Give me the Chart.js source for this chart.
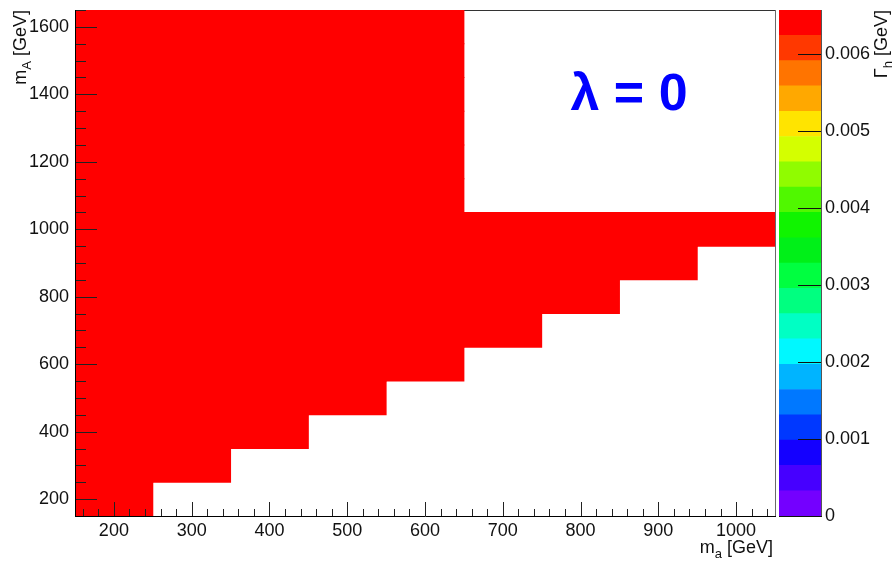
<!DOCTYPE html>
<html>
<head>
<meta charset="utf-8">
<script src="https://cdn.jsdelivr.net/npm/chart.js@4.4.1/dist/chart.umd.min.js"></script>
<style>
  html, body { margin: 0; padding: 0; background: #ffffff; }
  #wrap { position: relative; width: 895px; height: 561px; }
  #wrap canvas { position: absolute; left: 0; top: 0; }
</style>
</head>
<body>
<div id="wrap">
  <canvas id="main" width="895" height="561"></canvas>
  <canvas id="zbar" width="895" height="561"></canvas>
</div>
<script>
// Bin centres of the scan: light scalar mass m_a (columns) and heavy mass m_A (rows, top to bottom)
const maBins = [200, 300, 400, 500, 600, 700, 800, 900, 1000];
const mABins = [1600, 1500, 1400, 1300, 1200, 1100, 1000, 900, 800, 700, 600, 500, 400, 300, 200];
const binWidth = 100;

// Higgs width Γ_h [GeV] per bin (null = point not scanned)
const gammaH = [
  [0.0065, 0.0065, 0.0065, 0.0065, 0.0065, null,   null,   null,   null  ], // 1600
  [0.0065, 0.0065, 0.0065, 0.0065, 0.0065, null,   null,   null,   null  ], // 1500
  [0.0065, 0.0065, 0.0065, 0.0065, 0.0065, null,   null,   null,   null  ], // 1400
  [0.0065, 0.0065, 0.0065, 0.0065, 0.0065, null,   null,   null,   null  ], // 1300
  [0.0065, 0.0065, 0.0065, 0.0065, 0.0065, null,   null,   null,   null  ], // 1200
  [0.0065, 0.0065, 0.0065, 0.0065, 0.0065, null,   null,   null,   null  ], // 1100
  [0.0065, 0.0065, 0.0065, 0.0065, 0.0065, 0.0065, 0.0065, 0.0065, 0.0065], // 1000
  [0.0065, 0.0065, 0.0065, 0.0065, 0.0065, 0.0065, 0.0065, 0.0065, null  ], // 900
  [0.0065, 0.0065, 0.0065, 0.0065, 0.0065, 0.0065, 0.0065, null,   null  ], // 800
  [0.0065, 0.0065, 0.0065, 0.0065, 0.0065, 0.0065, null,   null,   null  ], // 700
  [0.0065, 0.0065, 0.0065, 0.0065, 0.0065, null,   null,   null,   null  ], // 600
  [0.0065, 0.0065, 0.0065, 0.0065, null,   null,   null,   null,   null  ], // 500
  [0.0065, 0.0065, 0.0065, null,   null,   null,   null,   null,   null  ], // 400
  [0.0065, 0.0065, null,   null,   null,   null,   null,   null,   null  ], // 300
  [0.0065, null,   null,   null,   null,   null,   null,   null,   null  ]  // 200
];

// Axis ranges and tick labels
const xRange = [150, 1050];
const yRange = [150, 1650];
const xTicks = [200, 300, 400, 500, 600, 700, 800, 900, 1000];
const yTicks = [200, 400, 600, 800, 1000, 1200, 1400, 1600];
const zMax = 0.00657;
const zTicks = [0, 0.001, 0.002, 0.003, 0.004, 0.005, 0.006];
const zTickLabels = ['0', '0.001', '0.002', '0.003', '0.004', '0.005', '0.006'];

// 20-level rainbow colour palette (low → high)
const palette = [
  '#7400ff', '#4600ff', '#1400ff', '#0038ff', '#0078ff',
  '#00b4ff', '#00f8ff', '#00ffc4', '#00ff80', '#00ff40',
  '#00f018', '#10f400', '#50f800', '#90fc00', '#d4ff00',
  '#ffe400', '#ffa800', '#ff7400', '#ff3800', '#ff0000'
];

const FONT = '"Liberation Sans", Arial, Helvetica, sans-serif';

function colourFor(v) {
  if (v == null) return 'rgba(0,0,0,0)';
  let k = Math.floor(v / zMax * palette.length);
  k = Math.max(0, Math.min(palette.length - 1, k));
  return palette[k];
}

// One floating bar per filled bin
const cells = [];
mABins.forEach((mA, r) => {
  maBins.forEach((ma, c) => {
    const v = gammaH[r][c];
    if (v != null) cells.push({ x: ma, y: [mA - binWidth / 2, mA + binWidth / 2], v: v });
  });
});

// Text with a subscript, e.g. m_a [GeV]; drawn so that it ends at local x = 0
function drawSubText(ctx, main, sub, rest, size) {
  const fMain = size + 'px ' + FONT;
  const fSub = Math.round(size * 0.7) + 'px ' + FONT;
  ctx.font = fMain; const w1 = ctx.measureText(main).width;
  ctx.font = fSub;  const w2 = ctx.measureText(sub).width;
  ctx.font = fMain; const w3 = ctx.measureText(rest).width;
  let x = -(w1 + w2 + w3);
  ctx.textAlign = 'left';
  ctx.textBaseline = 'alphabetic';
  ctx.font = fMain; ctx.fillText(main, x, 0); x += w1;
  ctx.font = fSub;  ctx.fillText(sub, x, size * 0.3); x += w2;
  ctx.font = fMain; ctx.fillText(rest, x, 0);
}

const px = v => Math.round(v) + 0.5;

// Axes keep the plot box fixed; no extra room for end labels
function fixedSize(prop, size) {
  return s => {
    s[prop] = size;
    s.paddingTop = 0; s.paddingBottom = 0;
    s.paddingLeft = 0; s.paddingRight = 0;
  };
}

const frameDecor = {
  id: 'frameDecor',
  beforeDatasetsDraw(chart) {
    const { ctx, chartArea: a } = chart;
    ctx.save();
    ctx.lineWidth = 1;
    ctx.strokeStyle = '#333333';
    ctx.beginPath();
    ctx.moveTo(a.left, px(a.top)); ctx.lineTo(a.right, px(a.top));
    ctx.stroke();
    ctx.strokeStyle = '#6a6a6a';
    ctx.beginPath();
    ctx.moveTo(px(a.right), a.top); ctx.lineTo(px(a.right), a.bottom);
    ctx.stroke();
    ctx.restore();
  },
  afterDatasetsDraw(chart) {
    const { ctx, chartArea: a, scales } = chart;
    const xs = scales.x, ys = scales.y;
    ctx.save();
    ctx.lineWidth = 1;
    ctx.strokeStyle = '#222222';
    // x-axis ticks, pointing into the plot
    ctx.beginPath();
    for (let v = 160; v <= 1040; v += 20) {
      const x = px(xs.getPixelForValue(v));
      const len = (v % 100 === 0) ? 14 : 7;
      ctx.moveTo(x, a.bottom); ctx.lineTo(x, a.bottom - len);
    }
    // y-axis ticks
    for (let v = 150; v <= 1650; v += 50) {
      const y = px(ys.getPixelForValue(v));
      const len = (v % 200 === 0) ? 22 : 11;
      ctx.moveTo(a.left, y); ctx.lineTo(a.left + len, y);
    }
    ctx.stroke();
    // axis lines
    ctx.strokeStyle = '#000000';
    ctx.beginPath();
    ctx.moveTo(px(a.left), a.top); ctx.lineTo(px(a.left), a.bottom + 0.5);
    ctx.moveTo(a.left, px(a.bottom)); ctx.lineTo(a.right + 1, px(a.bottom));
    ctx.stroke();
    ctx.restore();
  },
  afterDraw(chart) {
    const { ctx } = chart;
    ctx.save();
    ctx.fillStyle = '#111111';
    // x title
    ctx.save(); ctx.translate(773, 553); drawSubText(ctx, 'm', 'a', ' [GeV]', 18); ctx.restore();
    // y title
    ctx.save(); ctx.translate(26, 10); ctx.rotate(-Math.PI / 2); drawSubText(ctx, 'm', 'A', ' [GeV]', 18); ctx.restore();
    // colour-bar title
    ctx.save(); ctx.translate(887, 10); ctx.rotate(-Math.PI / 2); drawSubText(ctx, 'Γ', 'h', ' [GeV]', 18); ctx.restore();
    // coupling label
    ctx.fillStyle = '#0000ff';
    ctx.font = 'bold 52px ' + FONT;
    ctx.textAlign = 'center';
    ctx.textBaseline = 'alphabetic';
    ctx.fillText('λ = 0', 629, 110);
    ctx.restore();
  }
};

const tickFont = { family: FONT, size: 18 };
const noGrid = { display: false, drawTicks: false };

new Chart(document.getElementById('main'), {
  type: 'bar',
  data: {
    datasets: [{
      data: cells,
      backgroundColor: c => colourFor(c.raw && c.raw.v),
      borderWidth: 0,
      borderSkipped: false,
      inflateAmount: 0.5,
      barPercentage: 1,
      categoryPercentage: 1
    }]
  },
  options: {
    responsive: false,
    animation: false,
    devicePixelRatio: 1,
    layout: { padding: { left: 0, top: 10, right: 120, bottom: 0 } },
    plugins: { legend: { display: false }, tooltip: { enabled: false } },
    scales: {
      x: {
        type: 'linear', min: xRange[0], max: xRange[1], offset: false,
        grid: noGrid, border: { display: false },
        afterBuildTicks: s => { s.ticks = xTicks.map(v => ({ value: v })); },
        afterFit: fixedSize('height', 45),
        ticks: { padding: 4, font: tickFont, color: '#111111', maxRotation: 0, autoSkip: false,
                 callback: v => String(v) }
      },
      y: {
        type: 'linear', min: yRange[0], max: yRange[1],
        grid: noGrid, border: { display: false },
        afterBuildTicks: s => { s.ticks = yTicks.map(v => ({ value: v })); },
        afterFit: fixedSize('width', 75),
        ticks: { padding: 6, font: tickFont, color: '#111111', autoSkip: false,
                 callback: v => String(v) }
      }
    }
  },
  plugins: [frameDecor]
});

// Colour scale
const zDecor = {
  id: 'zDecor',
  afterDatasetsDraw(chart) {
    const { ctx, chartArea: a, scales } = chart;
    const zs = scales.y;
    ctx.save();
    ctx.lineWidth = 1;
    ctx.strokeStyle = '#111111';
    ctx.beginPath();
    zTicks.forEach(v => {
      const y = px(zs.getPixelForValue(v));
      ctx.moveTo(a.right, y); ctx.lineTo(a.right - 23, y);
    });
    ctx.stroke();
    ctx.strokeStyle = '#555555';
    ctx.beginPath();
    ctx.moveTo(px(a.right), a.top); ctx.lineTo(px(a.right), a.bottom);
    ctx.stroke();
    ctx.strokeStyle = '#111111';
    ctx.beginPath();
    ctx.moveTo(a.left, px(a.bottom)); ctx.lineTo(a.right + 1, px(a.bottom));
    ctx.stroke();
    ctx.restore();
  }
};

const zStep = zMax / palette.length;
new Chart(document.getElementById('zbar'), {
  type: 'bar',
  data: {
    labels: ['Γ'],
    datasets: palette.map((col, i) => ({
      data: [[i * zStep, (i + 1) * zStep]],
      backgroundColor: col,
      borderWidth: 0,
      borderSkipped: false,
      inflateAmount: 0.3,
      grouped: false,
      barPercentage: 1,
      categoryPercentage: 1
    }))
  },
  options: {
    responsive: false,
    animation: false,
    devicePixelRatio: 1,
    layout: { padding: { left: 779, top: 10, right: 14, bottom: 45 } },
    plugins: { legend: { display: false }, tooltip: { enabled: false } },
    scales: {
      x: { display: false },
      y: {
        type: 'linear', position: 'right', min: 0, max: zMax,
        grid: noGrid, border: { display: false },
        afterBuildTicks: s => { s.ticks = zTicks.map(v => ({ value: v })); },
        afterFit: fixedSize('width', 60),
        ticks: { padding: 4, font: tickFont, color: '#111111', autoSkip: false,
                 callback: (v, i) => zTickLabels[i] }
      }
    }
  },
  plugins: [zDecor]
});
</script>
</body>
</html>
